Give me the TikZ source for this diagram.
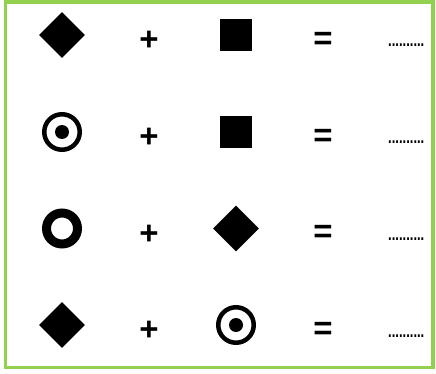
\documentclass[tikz,border=0pt]{standalone}
\usepackage{fontspec}
\setmainfont{Liberation Sans}
\usetikzlibrary{shapes.geometric}
\definecolor{framegreen}{RGB}{146,208,80}
\tikzset{
  diamondmark/.style={diamond, fill=black, inner sep=0pt, minimum size=46pt},
  squaremark/.style={rectangle, fill=black, inner sep=0pt, minimum size=32pt},
  targetmark/.style={circle, draw=black, line width=4.5pt, inner sep=0pt, minimum size=35.5pt,
    path picture={\fill[black] (path picture bounding box.center) circle (7pt);}},
  ringmark/.style={circle, draw=black, line width=9pt, inner sep=0pt, minimum size=31pt},
  signtext/.style={font=\fontsize{33}{33}\selectfont\bfseries, inner sep=0pt},
  dotstext/.style={font=\fontsize{13}{13}\selectfont\bfseries, anchor=base west, inner sep=0pt, yscale=1.4},
}

\begin{document}
\begin{tikzpicture}[x=1pt, y=-1pt]
    \useasboundingbox (0,0) rectangle (436,374);
    % Draw frame
    \draw[framegreen, line width=3.5pt] (5.5,2) rectangle (433,367.5);
    % Left column
    \node[diamondmark] (a1) at (62,35) {};
    \node[targetmark] (a2) at (62,132) {};
    \node[ringmark] (a3) at (62,228.5) {};
    \node[diamondmark] (a4) at (62,325) {};
    % Right column
    \node[squaremark] (b1) at (236,35) {};
    \node[squaremark] (b2) at (236,132) {};
    \node[diamondmark] (b3) at (236,228.5) {};
    \node[targetmark] (b4) at (236,325) {};
    % Signs and blanks
    \foreach \i/\y in {1/35, 2/132, 3/228.5, 4/325} {
        \node[signtext] (plus\i) at (149,\y+6) {+};
        \node[signtext] (eq\i) at (323,\y+5.5) {=};
        \node[dotstext] (blank\i) at (388,\y+12) {..........};
    }
\end{tikzpicture}
\end{document}
